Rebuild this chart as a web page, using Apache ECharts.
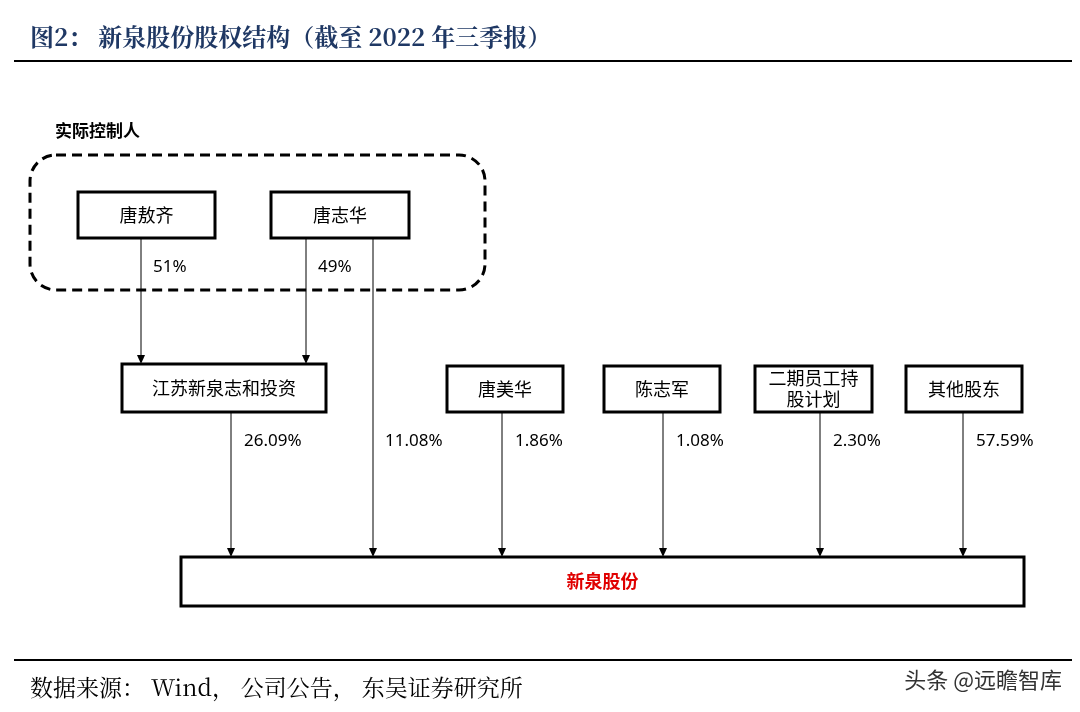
<!DOCTYPE html>
<html><head><meta charset="utf-8">
<script src="https://cdn.jsdelivr.net/npm/echarts@6/dist/echarts.min.js"></script>
<style>html,body{margin:0;background:#fff}#c{width:1080px;height:712px}</style>
</head><body><div id="c"></div>
<script>
const title = '图2： 新泉股份股权结构（截至 2022 年三季报）';
const source = '数据来源： Wind， 公司公告， 东吴证券研究所';
const watermark = '头条 @远瞻智库';
const groupLabel = '实际控制人';
const controllers = ['唐敖齐', '唐志华'];
const controllerShares = ['51%', '49%'];
const holders = ['江苏新泉志和投资', '唐美华', '陈志军', '二期员工持\n股计划', '其他股东'];
const holderShares = ['26.09%', '1.86%', '1.08%', '2.30%', '57.59%'];
const directShare = '11.08%';
const target = '新泉股份';

// layout
const ctrlBoxes = [[78, 192, 137, 46], [271, 192, 138, 46]];
const ctrlArrowX = [141, 306];
const holderBoxes = [[122, 364, 204, 48], [447, 366, 116, 46], [604, 366, 116, 46], [755, 366, 117, 46], [906, 366, 116, 46]];
const holderArrowX = [231, 502, 663, 820, 963];
const directX = 373;
const tgt = [181, 557, 843, 49];

const g = [];
const font = '"Noto Sans CJK SC", sans-serif';
function box(b, text, opts) {
  g.push({type: 'rect', shape: {x: b[0], y: b[1], width: b[2], height: b[3]},
    style: {fill: '#fff', stroke: '#000', lineWidth: 3}});
  g.push({type: 'text', x: b[0] + b[2] / 2, y: b[1] + b[3] / 2,
    style: Object.assign({text: text, fill: '#000', font: '18px ' + font, align: 'center', verticalAlign: 'middle', lineHeight: 21}, opts || {})});
}
function arrow(x, y1, y2) {
  g.push({type: 'line', shape: {x1: x, y1: y1, x2: x, y2: y2 - 8}, style: {stroke: '#000', lineWidth: 1}});
  g.push({type: 'polygon', shape: {points: [[x - 4, y2 - 9], [x + 4, y2 - 9], [x, y2]]}, style: {fill: '#000'}});
}
function label(x, y, t) {
  g.push({type: 'text', x: x, y: y, style: {text: t, fill: '#000', font: '17px "Noto Sans", sans-serif', verticalAlign: 'middle'}});
}
// title
g.push({type: 'text', x: 30, y: 37, style: {text: title, fill: '#1f3864', font: 'bold 24px "Noto Serif CJK SC","Noto Sans CJK SC", serif', verticalAlign: 'middle'}});
g.push({type: 'line', shape: {x1: 14, y1: 61, x2: 1072, y2: 61}, style: {stroke: '#000', lineWidth: 2}});
// group
g.push({type: 'text', x: 55, y: 131, style: {text: groupLabel, fill: '#000', font: 'bold 17px ' + font, verticalAlign: 'middle'}});
g.push({type: 'rect', shape: {x: 30, y: 155, width: 455, height: 135, r: 26},
  style: {fill: 'none', stroke: '#000', lineWidth: 3, lineDash: [10, 6]}});
controllers.forEach((c, i) => {
  box(ctrlBoxes[i], c);
  arrow(ctrlArrowX[i], ctrlBoxes[i][1] + ctrlBoxes[i][3], holderBoxes[0][1]);
  label(ctrlArrowX[i] + 12, 267, controllerShares[i]);
});
arrow(directX, ctrlBoxes[1][1] + ctrlBoxes[1][3], tgt[1]);
label(directX + 12, 441, directShare);
holders.forEach((h, i) => {
  const b = holderBoxes[i];
  box(b, h);
  arrow(holderArrowX[i], b[1] + b[3], tgt[1]);
  label(holderArrowX[i] + 13, 441, holderShares[i]);
});
box(tgt, target, {fill: '#e00000', font: 'bold 18px ' + font});
// footer
g.push({type: 'line', shape: {x1: 14, y1: 660, x2: 1072, y2: 660}, style: {stroke: '#000', lineWidth: 2}});
g.push({type: 'text', x: 30, y: 687, style: {text: source, fill: '#000', font: '23px "Noto Serif CJK SC","Noto Sans CJK SC", serif', verticalAlign: 'middle'}});
g.push({type: 'text', x: 1062, y: 680, style: {text: watermark, fill: '#333', font: '22px ' + font, align: 'right', verticalAlign: 'middle'}});

const chart = echarts.init(document.getElementById('c'));
chart.setOption({animation: false, graphic: g});
</script></body></html>
